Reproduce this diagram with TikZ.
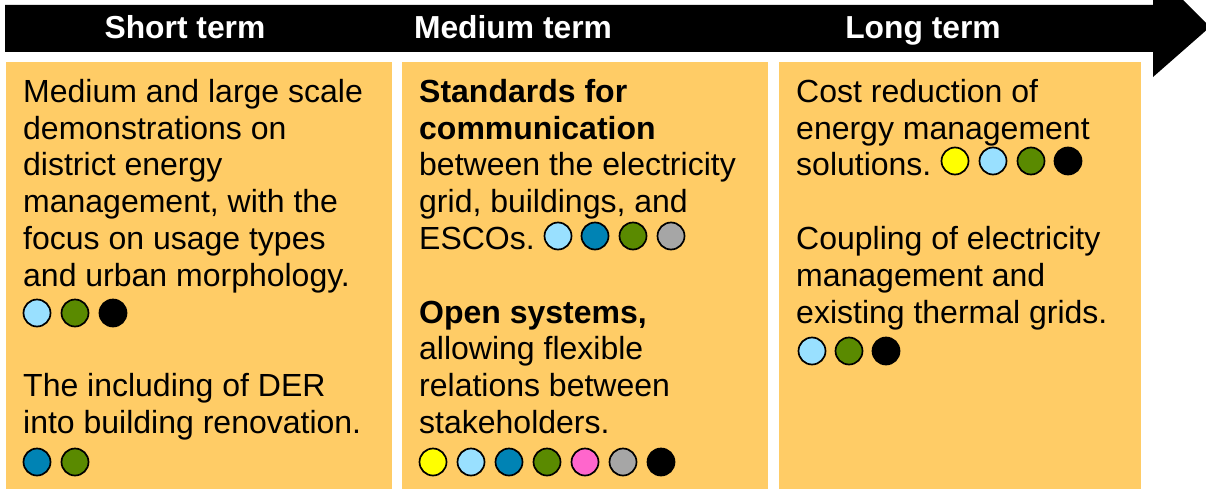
\documentclass[tikz,border=0pt]{standalone}
\usepackage{fontspec}
\setmainfont{Liberation Sans}
\definecolor{panelyellow}{HTML}{FFCC66}
\definecolor{dotyellow}{HTML}{FFFF00}
\definecolor{dotsky}{HTML}{99E0FF}
\definecolor{dotblue}{HTML}{0083B4}
\definecolor{dotgreen}{HTML}{5A8A00}
\definecolor{dotpink}{HTML}{FF66CC}
\definecolor{dotgrey}{HTML}{A6A6A6}
\begin{document}
\begin{tikzpicture}[
    x=1pt, y=-1pt,
    panel/.style={fill=panelyellow},
    head/.style={anchor=base, text=white,
                 font=\fontsize{31.8}{36.8}\selectfont\bfseries},
    txt/.style={anchor=north west, inner sep=0pt, align=left,
                font=\fontsize{32}{36.8}\selectfont},
    dot/.style={circle, draw=black, line width=1.7pt, minimum size=27pt,
                inner sep=0pt}
  ]
  \useasboundingbox (0,0) rectangle (1206,495);
  % Time arrow
  \begin{scope}
    \clip (0,0) rectangle (1206,495);
    \fill (5,5) -- (1153,5) -- (1153,-30) -- (1210,27) -- (1153,77)
      -- (1153,52) -- (5,52) -- cycle;
  \end{scope}
  \node[head] (short) at (185,39) {Short term};
  \node[head] (medium) at (513,39) {Medium term};
  \node[head] (long) at (923,39) {Long term};
  % Panels
  \fill[panel] (6,62) rectangle (392,489);
  \fill[panel] (402,62) rectangle (768,489);
  \fill[panel] (779,62) rectangle (1141,489);
  % Short term
  \node[txt] (shorttxt) at (23,79) {%
    Medium and large scale\\ demonstrations on\\ district energy\\
    management, with the\\ focus on usage types\\
    and urban morphology.\\[73.6pt]
    The including of DER\\ into building renovation.};
  % Medium term
  \node[txt] (mediumtxt) at (419,79) {%
    \textbf{Standards for}\\ \textbf{communication}\\
    between the electricity\\ grid, buildings, and\\ ESCOs.\\[36.8pt]
    \textbf{Open systems,}\\ allowing flexible\\ relations between\\
    stakeholders.};
  % Long term
  \node[txt] (longtxt) at (796,79) {%
    Cost reduction of\\ energy management\\ solutions.\\[36.8pt]
    Coupling of electricity\\ management and\\ existing thermal grids.};
  % Stakeholder dots
  \foreach \n/\x/\y/\c in {
      sa/37/313/dotsky, sb/75/313/dotgreen, sc/113/313/black,
      sd/37/462/dotblue, se/75/462/dotgreen,
      ma/558/236/dotsky, mb/595/236/dotblue, mc/633/236/dotgreen,
      md/671/236/dotgrey,
      me/433/462/dotyellow, mf/471/462/dotsky, mg/509/462/dotblue,
      mh/547/462/dotgreen, mi/585/462/dotpink, mj/623/462/dotgrey,
      mk/661/462/black,
      la/955/161/dotyellow, lb/993/161/dotsky, lc/1031/161/dotgreen,
      ld/1068/161/black,
      le/812/351/dotsky, lf/849/351/dotgreen, lg/886/351/black}
    \node[dot, fill=\c] (\n) at (\x,\y) {};
\end{tikzpicture}
\end{document}
